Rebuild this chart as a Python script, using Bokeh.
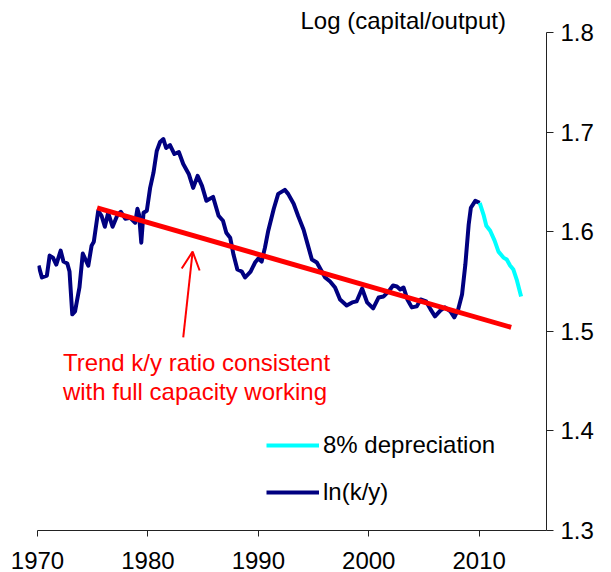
from bokeh.plotting import figure
from bokeh.models import (Range1d, FixedTicker, NumeralTickFormatter, Legend,
                          LegendItem, Label, Arrow, OpenHead, Title)
from bokeh.embed import file_html
from bokeh.resources import INLINE

# ln(k/y) series (year, value)
k_years = [1970.1, 1970.4, 1970.85, 1971.1, 1971.4, 1971.7, 1972.1, 1972.35, 1972.7, 1972.9,
           1973.15, 1973.4, 1973.8, 1974.1, 1974.6, 1974.9, 1975.1, 1975.5, 1975.8, 1976.1,
           1976.4, 1976.8, 1977.25, 1977.55, 1977.95, 1978.4, 1978.85, 1979.05, 1979.2, 1979.4,
           1979.6, 1979.9, 1980.2, 1980.5, 1980.8, 1981.1, 1981.4, 1981.65, 1982.0, 1982.4,
           1982.8, 1983.2, 1983.7, 1984.1, 1984.5, 1984.9, 1985.3, 1985.9, 1986.4, 1986.8,
           1987.1, 1987.45, 1987.75, 1988.1, 1988.5, 1988.8, 1989.3, 1989.7, 1990.0, 1990.3,
           1990.6, 1990.9, 1991.4, 1991.8, 1992.1, 1992.4, 1992.7, 1993.2, 1993.6, 1994.1,
           1994.5, 1994.85, 1995.3, 1995.65, 1996.05, 1996.5, 1996.95, 1997.4, 1998.0, 1998.5,
           1998.9, 1999.4, 1999.85, 2000.4, 2000.9, 2001.35, 2001.8, 2002.2, 2002.55, 2002.85,
           2003.15, 2003.5, 2003.9, 2004.35, 2004.7, 2005.2, 2005.6, 2006.0, 2006.5, 2006.9,
           2007.4, 2007.75, 2008.1, 2008.45, 2008.75, 2009.05, 2009.25, 2009.65, 2010.05]
k_values = [1.566, 1.554, 1.556, 1.576, 1.574, 1.567, 1.581, 1.570, 1.568, 1.560,
            1.517, 1.520, 1.544, 1.578, 1.566, 1.586, 1.590, 1.621, 1.616, 1.605,
            1.619, 1.605, 1.617, 1.620, 1.613, 1.614, 1.609, 1.623, 1.617, 1.589,
            1.619, 1.621, 1.644, 1.659, 1.681, 1.690, 1.693, 1.684, 1.687, 1.678,
            1.680, 1.668, 1.658, 1.644, 1.656, 1.646, 1.631, 1.635, 1.616, 1.611,
            1.599, 1.594, 1.577, 1.562, 1.560, 1.554, 1.560, 1.569, 1.573, 1.570,
            1.584, 1.601, 1.623, 1.638, 1.640, 1.642, 1.638, 1.628, 1.616, 1.602,
            1.586, 1.572, 1.569, 1.562, 1.554, 1.550, 1.544, 1.532, 1.526, 1.529,
            1.530, 1.543, 1.529, 1.523, 1.534, 1.535, 1.540, 1.546, 1.545, 1.542,
            1.544, 1.532, 1.524, 1.525, 1.532, 1.530, 1.522, 1.515, 1.521, 1.524,
            1.520, 1.514, 1.522, 1.537, 1.567, 1.607, 1.624, 1.631, 1.629]

# 8% depreciation series
dep_years = [2010.05, 2010.4, 2010.65, 2011.0, 2011.4, 2011.75, 2012.2, 2012.5, 2012.8,
             2013.1, 2013.4, 2013.8]
dep_values = [1.629, 1.617, 1.606, 1.601, 1.591, 1.580, 1.574, 1.572, 1.566, 1.562,
              1.552, 1.535]

# trend k/y line
trend_years = [1975.4, 2012.9]
trend_values = [1.624, 1.504]

# annotation arrow (tail -> tip)
arrow_years = [1983.2, 1984.05]
arrow_values = [1.494, 1.580]

x_ticks = [1970, 1980, 1990, 2000, 2010]
y_ticks = [1.3, 1.4, 1.5, 1.6, 1.7, 1.8]

FONT = "Liberation Sans"
FS = "24px"

p = figure(width=611, height=572,
           x_range=Range1d(1970, 2016.1), y_range=Range1d(1.3, 1.8),
           y_axis_location="right",
           output_backend="svg", toolbar_location=None,
           min_border_left=37, min_border_right=65,
           min_border_top=32, min_border_bottom=42)
p.xgrid.visible = False
p.ygrid.visible = False
p.outline_line_color = None
p.background_fill_color = "white"
p.border_fill_color = "white"

p.title = Title(text="Log (capital/output)", align="left", offset=263,
                text_font=FONT, text_font_size=FS, text_font_style="normal",
                text_color="black", standoff=-3)

for ax in (p.xaxis[0], p.yaxis[0]):
    ax.axis_line_color = "#222222"
    ax.axis_line_width = 1
    ax.major_tick_line_color = "#222222"
    ax.major_tick_in = 0
    ax.minor_tick_line_color = None
    ax.major_label_text_font = FONT
    ax.major_label_text_font_size = FS
    ax.major_label_text_color = "black"

p.xaxis[0].ticker = FixedTicker(ticks=x_ticks)
p.xaxis[0].formatter = NumeralTickFormatter(format="0")
p.xaxis[0].major_tick_out = 6
p.xaxis[0].major_label_standoff = 15
p.xaxis[0].major_label_text_line_height = 0.6

p.yaxis[0].ticker = FixedTicker(ticks=y_ticks)
p.yaxis[0].formatter = NumeralTickFormatter(format="0.0")
p.yaxis[0].major_tick_out = 7
p.yaxis[0].major_label_standoff = 7

r_k = p.line(k_years, k_values, line_color="#000080", line_width=4, line_join="round")
r_d = p.line(dep_years, dep_values, line_color="#00FFFF", line_width=4, line_join="round")
p.line(trend_years, trend_values, line_color="#FF0000", line_width=5)

p.add_layout(Arrow(end=OpenHead(size=18, line_color="#FF0000", line_width=2),
                   x_start=arrow_years[0], y_start=arrow_values[0],
                   x_end=arrow_years[1], y_end=arrow_values[1],
                   line_color="#FF0000", line_width=2))

p.add_layout(Label(x=1972.3, y=1.4683, text="Trend k/y ratio consistent",
                   text_font=FONT, text_font_size=FS, text_color="#FF0000",
                   text_baseline="middle"))
p.add_layout(Label(x=1972.3, y=1.4400, text="with full capacity working",
                   text_font=FONT, text_font_size=FS, text_color="#FF0000",
                   text_baseline="middle"))

legend = Legend(items=[LegendItem(label="8% depreciation", renderers=[r_d]),
                       LegendItem(label="ln(k/y)", renderers=[r_k])],
                location=(229, 24))
legend.label_text_font = FONT
legend.label_text_font_size = FS
legend.label_text_color = "black"
legend.glyph_width = 53
legend.glyph_height = 28
legend.label_height = 28
legend.spacing = 19
legend.padding = 0
legend.margin = 0
legend.label_standoff = 4
legend.border_line_color = None
legend.background_fill_alpha = 0
p.add_layout(legend)

open("out.html", "w").write(file_html(p, INLINE))
